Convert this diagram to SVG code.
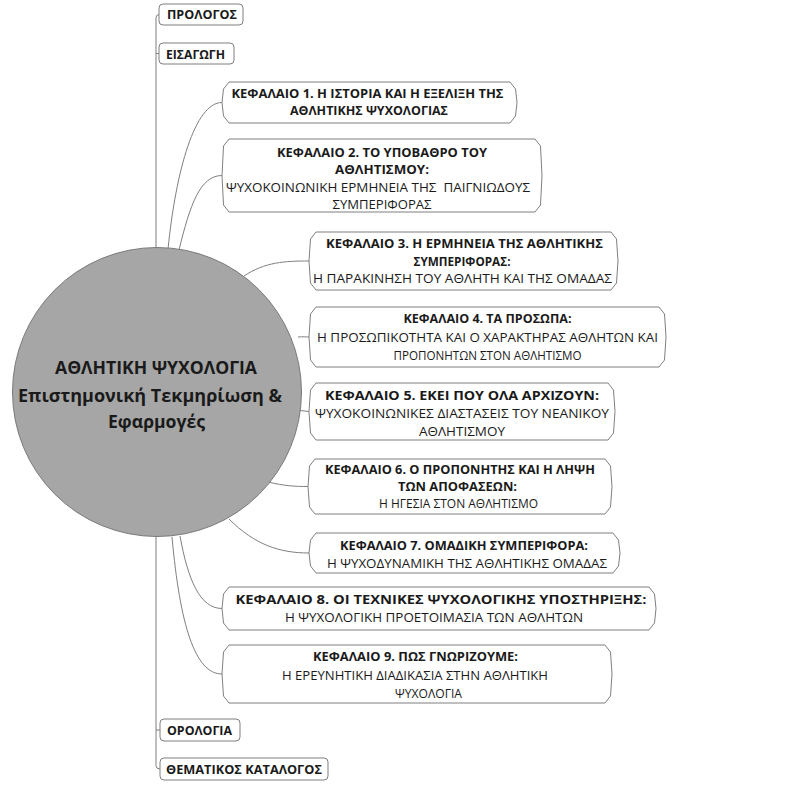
<svg xmlns="http://www.w3.org/2000/svg" width="788" height="786" viewBox="0 0 788 786">
<style>
.bg{fill:#ffffff}
.edge{fill:none;stroke:#7f7f7f;stroke-width:1}
.box{fill:#ffffff;stroke:#7f7f7f;stroke-width:1}
.hub{fill:#a6a6a6;stroke:#7a7a7a;stroke-width:1}
text{font-family:"Open Sans","DejaVu Sans",sans-serif;fill:#1a1a1a;text-anchor:middle}
.b{font-weight:bold;font-size:13px}
.r{font-size:13px}
.s{font-weight:bold;font-size:13px}
.h{font-weight:bold;font-size:17px}
</style>
<rect class="bg" x="0" y="0" width="788" height="786"/>
<g id="connectors">
<path class="edge" d="M159,14.5 Q156,14.5 156,18 V765.5 Q156,769 160,769"/>
<path class="edge" d="M156,53.5 H159"/>
<path class="edge" d="M156,730 H160"/>
<path class="edge" d="M168,249 C176,170 195,102.5 222,102.5"/>
<path class="edge" d="M179,250 C190,205 200,175.5 222,175.5"/>
<path class="edge" d="M244,276 C265,262 285,261 309,261"/>
<path class="edge" d="M298,337 C303,336.5 306,337 309,337"/>
<path class="edge" d="M300,410.5 L309,411.5"/>
<path class="edge" d="M268,482 C285,486 295,486.5 308,486.5"/>
<path class="edge" d="M229,519 C255,545 280,553 309,553"/>
<path class="edge" d="M180,536 C188,580 200,608.5 222,608.5"/>
<path class="edge" d="M172,537 C180,625 195,674 222,674"/>
</g>
<g id="hub">
<circle class="hub" cx="157" cy="392" r="144.5"/>
<text class="h" x="156" y="374" textLength="202" lengthAdjust="spacingAndGlyphs">ΑΘΛΗΤΙΚΗ ΨΥΧΟΛΟΓΙΑ</text>
<text class="h" x="150" y="402" textLength="264" lengthAdjust="spacingAndGlyphs">Επιστημονική Τεκμηρίωση &amp;</text>
<text class="h" x="156.5" y="428" textLength="97" lengthAdjust="spacingAndGlyphs">Εφαρμογές</text>
</g>
<g id="prologos">
<rect class="box" x="159" y="4" width="84" height="21" rx="4"/>
<text class="s" x="202" y="19" textLength="70" lengthAdjust="spacingAndGlyphs">ΠΡΟΛΟΓΟΣ</text>
</g>
<g id="eisagogi">
<rect class="box" x="159" y="43" width="75" height="21" rx="4"/>
<text class="s" x="195.5" y="58.5" textLength="59" lengthAdjust="spacingAndGlyphs">ΕΙΣΑΓΩΓΗ</text>
</g>
<g id="ch1">
<path class="box" d="M229,82 L510,82 L515.5,89 L517,102.5 L515.5,116 L510,123 L229,123 L223.5,116 L222,102.5 L223.5,89 Z"/>
<text class="b" x="367.5" y="97.9" textLength="272" lengthAdjust="spacingAndGlyphs">ΚΕΦΑΛΑΙΟ 1. Η ΙΣΤΟΡΙΑ ΚΑΙ Η ΕΞΕΛΙΞΗ ΤΗΣ</text>
<text class="b" x="369" y="115.4" textLength="158" lengthAdjust="spacingAndGlyphs">ΑΘΛΗΤΙΚΗΣ ΨΥΧΟΛΟΓΙΑΣ</text>
</g>
<g id="ch2">
<path class="box" d="M229,139 L535,139 L540.5,146 L542,175.5 L540.5,205 L535,212 L229,212 L223.5,205 L222,175.5 L223.5,146 Z"/>
<text class="b" x="382" y="156.6" textLength="210" lengthAdjust="spacingAndGlyphs">ΚΕΦΑΛΑΙΟ 2. ΤΟ ΥΠΟΒΑΘΡΟ ΤΟΥ</text>
<text class="b" x="382" y="174.1" textLength="94" lengthAdjust="spacingAndGlyphs">ΑΘΛΗΤΙΣΜΟΥ:</text>
<text class="r" x="378" y="191.6" xml:space="preserve" textLength="304" lengthAdjust="spacingAndGlyphs">ΨΥΧΟΚΟΙΝΩΝΙΚΗ ΕΡΜΗΝΕΙΑ ΤΗΣ  ΠΑΙΓΝΙΩΔΟΥΣ</text>
<text class="r" x="382" y="209.1" textLength="99" lengthAdjust="spacingAndGlyphs">ΣΥΜΠΕΡΙΦΟΡΑΣ</text>
</g>
<g id="ch3">
<path class="box" d="M316,232 L611,232 L616.5,239 L618,261 L616.5,283 L611,290 L316,290 L310.5,283 L309,261 L310.5,239 Z"/>
<text class="b" x="464.5" y="248" textLength="277" lengthAdjust="spacingAndGlyphs">ΚΕΦΑΛΑΙΟ 3. Η ΕΡΜΗΝΕΙΑ ΤΗΣ ΑΘΛΗΤΙΚΗΣ</text>
<text class="b" x="462" y="265.5" textLength="97" lengthAdjust="spacingAndGlyphs">ΣΥΜΠΕΡΙΦΟΡΑΣ:</text>
<text class="r" x="462.5" y="283" textLength="299" lengthAdjust="spacingAndGlyphs">Η ΠΑΡΑΚΙΝΗΣΗ ΤΟΥ ΑΘΛΗΤΗ ΚΑΙ ΤΗΣ ΟΜΑΔΑΣ</text>
</g>
<g id="ch4">
<path class="box" d="M316,307 L659,307 L664.5,314 L666,337 L664.5,360 L659,367 L316,367 L310.5,360 L309,337 L310.5,314 Z"/>
<text class="b" x="487.5" y="323" textLength="168" lengthAdjust="spacingAndGlyphs">ΚΕΦΑΛΑΙΟ 4. ΤΑ ΠΡΟΣΩΠΑ:</text>
<text class="r" x="487.5" y="341.5" textLength="341" lengthAdjust="spacingAndGlyphs">Η ΠΡΟΣΩΠΙΚΟΤΗΤΑ ΚΑΙ Ο ΧΑΡΑΚΤΗΡΑΣ ΑΘΛΗΤΩΝ ΚΑΙ</text>
<text class="r" x="487.5" y="360" textLength="188" lengthAdjust="spacingAndGlyphs">ΠΡΟΠΟΝΗΤΩΝ ΣΤΟΝ ΑΘΛΗΤΙΣΜΟ</text>
</g>
<g id="ch5">
<path class="box" d="M316,383 L608,383 L613.5,390 L615,411.5 L613.5,433 L608,440 L316,440 L310.5,433 L309,411.5 L310.5,390 Z"/>
<text class="b" x="462" y="399.5" textLength="274" lengthAdjust="spacingAndGlyphs">ΚΕΦΑΛΑΙΟ 5. ΕΚΕΙ ΠΟΥ ΟΛΑ ΑΡΧΙΖΟΥΝ:</text>
<text class="r" x="462" y="417.5" textLength="294" lengthAdjust="spacingAndGlyphs">ΨΥΧΟΚΟΙΝΩΝΙΚΕΣ ΔΙΑΣΤΑΣΕΙΣ ΤΟΥ ΝΕΑΝΙΚΟΥ</text>
<text class="r" x="462" y="435.5" textLength="86" lengthAdjust="spacingAndGlyphs">ΑΘΛΗΤΙΣΜΟΥ</text>
</g>
<g id="ch6">
<path class="box" d="M315,459 L605,459 L610.5,466 L612,486.5 L610.5,507 L605,514 L315,514 L309.5,507 L308,486.5 L309.5,466 Z"/>
<text class="b" x="460" y="473.5" textLength="270" lengthAdjust="spacingAndGlyphs">ΚΕΦΑΛΑΙΟ 6. Ο ΠΡΟΠΟΝΗΤΗΣ ΚΑΙ Η ΛΗΨΗ</text>
<text class="b" x="457.5" y="491" textLength="119" lengthAdjust="spacingAndGlyphs">ΤΩΝ ΑΠΟΦΑΣΕΩΝ:</text>
<text class="r" x="458.5" y="507.5" textLength="159" lengthAdjust="spacingAndGlyphs">Η ΗΓΕΣΙΑ ΣΤΟΝ ΑΘΛΗΤΙΣΜΟ</text>
</g>
<g id="ch7">
<path class="box" d="M316,533 L613,533 L618.5,540 L620,553 L618.5,566 L613,573 L316,573 L310.5,566 L309,553 L310.5,540 Z"/>
<text class="b" x="464" y="549.5" textLength="248" lengthAdjust="spacingAndGlyphs">ΚΕΦΑΛΑΙΟ 7. ΟΜΑΔΙΚΗ ΣΥΜΠΕΡΙΦΟΡΑ:</text>
<text class="r" x="467" y="567.5" textLength="280" lengthAdjust="spacingAndGlyphs">Η ΨΥΧΟΔΥΝΑΜΙΚΗ ΤΗΣ ΑΘΛΗΤΙΚΗΣ ΟΜΑΔΑΣ</text>
</g>
<g id="ch8">
<path class="box" d="M229,587 L649,587 L654.5,594 L656,608.5 L654.5,623 L649,630 L229,630 L223.5,623 L222,608.5 L223.5,594 Z"/>
<text class="b" x="441" y="603.5" textLength="411" lengthAdjust="spacingAndGlyphs">ΚΕΦΑΛΑΙΟ 8. ΟΙ ΤΕΧΝΙΚΕΣ ΨΥΧΟΛΟΓΙΚΗΣ ΥΠΟΣΤΗΡΙΞΗΣ:</text>
<text class="r" x="434" y="621.5" textLength="298" lengthAdjust="spacingAndGlyphs">Η ΨΥΧΟΛΟΓΙΚΗ ΠΡΟΕΤΟΙΜΑΣΙΑ ΤΩΝ ΑΘΛΗΤΩΝ</text>
</g>
<g id="ch9">
<path class="box" d="M229,645 L605,645 L610.5,652 L612,674 L610.5,696 L605,703 L229,703 L223.5,696 L222,674 L223.5,652 Z"/>
<text class="b" x="415.5" y="661" textLength="205" lengthAdjust="spacingAndGlyphs">ΚΕΦΑΛΑΙΟ 9. ΠΩΣ ΓΝΩΡΙΖΟΥΜΕ:</text>
<text class="r" x="415" y="680" textLength="266" lengthAdjust="spacingAndGlyphs">Η ΕΡΕΥΝΗΤΙΚΗ ΔΙΑΔΙΚΑΣΙΑ ΣΤΗΝ ΑΘΛΗΤΙΚΗ</text>
<text class="r" x="428.5" y="698" textLength="67" lengthAdjust="spacingAndGlyphs">ΨΥΧΟΛΟΓΙΑ</text>
</g>
<g id="orologia">
<rect class="box" x="160" y="719" width="80" height="22" rx="4"/>
<text class="s" x="199.5" y="735" textLength="65" lengthAdjust="spacingAndGlyphs">ΟΡΟΛΟΓΙΑ</text>
</g>
<g id="katalogos">
<rect class="box" x="160" y="758" width="168" height="22" rx="4"/>
<text class="s" x="244" y="774" textLength="156" lengthAdjust="spacingAndGlyphs">ΘΕΜΑΤΙΚΟΣ ΚΑΤΑΛΟΓΟΣ</text>
</g>
</svg>
